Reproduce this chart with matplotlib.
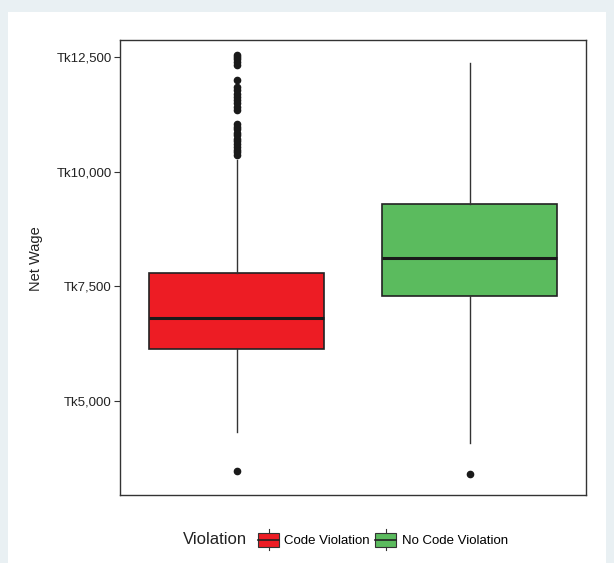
import matplotlib.pyplot as plt
from matplotlib.patches import Rectangle, Patch
from matplotlib.lines import Line2D
from matplotlib.legend_handler import HandlerBase

plt.rcParams['font.family'] = ['Liberation Sans', 'DejaVu Sans']

# Data
groups = ["Code Violation", "No Code Violation"]
colors = ["#ed1c24", "#5bbb5e"]
q1 = [6130, 7280]
medians = [6800, 8110]
q3 = [7800, 9290]
whisker_low = [4320, 4090]
whisker_high = [10250, 12370]
fliers_code = [3470,
               10370, 10420, 10480, 10540, 10600, 10660, 10720, 10790,
               10850, 10920, 10980, 11040,
               11350, 11420, 11490, 11560, 11630, 11700, 11780, 11850,
               12000,
               12330, 12390, 12450, 12500, 12540]
fliers_nocode = [3410]
fliers = [fliers_code, fliers_nocode]
yticks = [5000, 7500, 10000, 12500]
ytick_labels = ["Tk5,000", "Tk7,500", "Tk10,000", "Tk12,500"]

fig = plt.figure(figsize=(6.14, 5.63), dpi=100)
fig.patch.set_facecolor("#e9f0f3")
fig.add_artist(Rectangle((8 / 614, 0), 598 / 614, 551 / 563,
                         transform=fig.transFigure, facecolor="white",
                         edgecolor="none", zorder=0))

ax = fig.add_axes([120 / 614, 1 - 495 / 563, 466 / 614, 455 / 563])

stats = []
for i in range(len(groups)):
    stats.append(dict(med=medians[i], q1=q1[i], q3=q3[i],
                      whislo=whisker_low[i], whishi=whisker_high[i],
                      fliers=fliers[i], label=groups[i]))

bp = ax.bxp(stats, positions=[1, 2], widths=0.75, patch_artist=True,
            boxprops=dict(edgecolor="#222222", linewidth=1.2),
            medianprops=dict(color="#1a1a1a", linewidth=2.2),
            whiskerprops=dict(color="#333333", linewidth=1.0),
            capprops=dict(linewidth=0),
            flierprops=dict(marker="o", markersize=4.5, markerfacecolor="#1a1a1a",
                            markeredgecolor="#1a1a1a"))
for patch, c in zip(bp["boxes"], colors):
    patch.set_facecolor(c)

ax.set_xlim(0.5, 2.5)
ax.set_ylim(2950, 12870)
ax.set_xticks([])
ax.set_yticks(yticks)
ax.set_yticklabels(ytick_labels, fontsize=9.5, color="#222222")
ax.tick_params(axis="y", length=4, width=0.8, color="#333333", pad=2)
for s in ax.spines.values():
    s.set_color("#333333")
    s.set_linewidth(1.0)
ax.set_ylabel("Net Wage", fontsize=10.5, color="#222222")
ax.yaxis.set_label_coords(-0.165, 0.52)


class BoxHandler(HandlerBase):
    def create_artists(self, legend, orig_handle, xdescent, ydescent,
                       width, height, fontsize, trans):
        cx = width / 2 - xdescent
        rect = Rectangle((-xdescent, -ydescent), width, height,
                         facecolor=orig_handle.get_facecolor(), edgecolor="#333333",
                         linewidth=0.8, transform=trans)
        med = Line2D([-xdescent, width - xdescent], [height / 2 - ydescent] * 2,
                     color="#222222", linewidth=1.2, transform=trans)
        w1 = Line2D([cx, cx], [-ydescent - height * 0.25, -ydescent],
                    color="#333333", linewidth=0.8, transform=trans)
        w2 = Line2D([cx, cx], [-ydescent + height, -ydescent + height * 1.25],
                    color="#333333", linewidth=0.8, transform=trans)
        return [rect, med, w1, w2]


handles = [Patch(facecolor=c) for c in colors]
leg = fig.legend(handles, groups, loc="center left",
                 bbox_to_anchor=(258 / 614, 1 - 540 / 563),
                 ncol=2, frameon=False, fontsize=9.5, handler_map={Patch: BoxHandler()},
                 handlelength=1.6, handleheight=1.25, handletextpad=0.4,
                 columnspacing=0.4, borderpad=0, borderaxespad=0)
fig.text(247 / 614, 1 - 540 / 563, "Violation", fontsize=12, color="#222222",
         ha="right", va="center")

fig.savefig("out.png", dpi=100, facecolor=fig.get_facecolor())
